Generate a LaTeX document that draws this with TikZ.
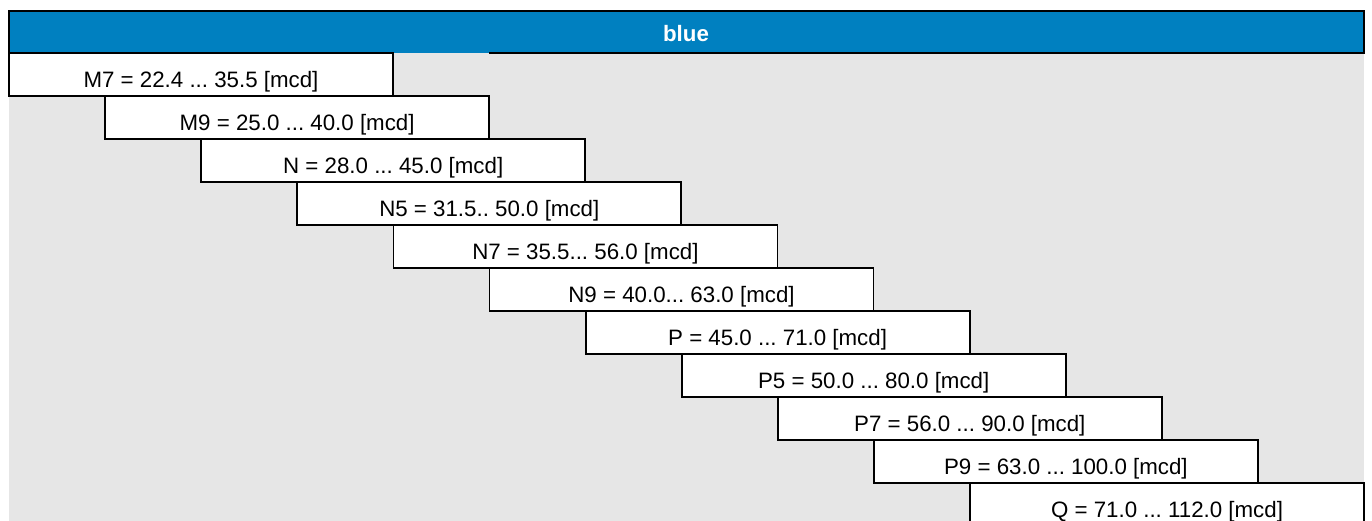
\documentclass[tikz,border=0pt]{standalone}
\usepackage{fontspec}
\setmainfont{Liberation Sans}
\frenchspacing
\definecolor{barblue}{RGB}{0,128,192}
\definecolor{bggray}{RGB}{230,230,230}
\newcommand{\tdots}{...}

\tikzset{
  binbox/.style={draw, line width=0.9pt, fill=white, anchor=north west,
    inner sep=0pt, outer sep=0pt, minimum width=192pt, minimum height=21.5pt,
    text height=14pt, text depth=1.2pt, font=\fontsize{11.15}{13}\selectfont},
}

\begin{document}
\begin{tikzpicture}[x=0.5pt,y=-0.5pt]
\useasboundingbox (0,0) rectangle (1372,520);
\clip (0,0) rectangle (1372,520);
% background and header bar
\fill[bggray] (9,53) rectangle (1364,530);
\fill[barblue] (9,11) rectangle (1364,53);
\draw[line width=1.3pt] (489,53) -- (1364,53) -- (1364,11) -- (9,11) -- (9,53);
\node[anchor=base, text=white, font=\bfseries\fontsize{11.15}{13}\selectfont] (head) at (686,41) {blue};
% intensity bins
\foreach \lbl [count=\i from 0] in {M7 = 22.4 \tdots{} 35.5 [mcd], M9 = 25.0 \tdots{} 40.0 [mcd],
    N = 28.0 \tdots{} 45.0 [mcd], N5 = 31.5.. 50.0 [mcd], N7 = 35.5\tdots{} 56.0 [mcd],
    N9 = 40.0\tdots{} 63.0 [mcd], P = 45.0 \tdots{} 71.0 [mcd], P5 = 50.0 \tdots{} 80.0 [mcd],
    P7 = 56.0 \tdots{} 90.0 [mcd], P9 = 63.0 \tdots{} 100.0 [mcd]}
  \node[binbox] (bin\i) at ({9+96.1*\i},{53+43*\i}) {\lbl};
\node[binbox, minimum width=197pt] (bin10) at (970,483) {Q = 71.0 ... 112.0 [mcd]};
\end{tikzpicture}
\end{document}
